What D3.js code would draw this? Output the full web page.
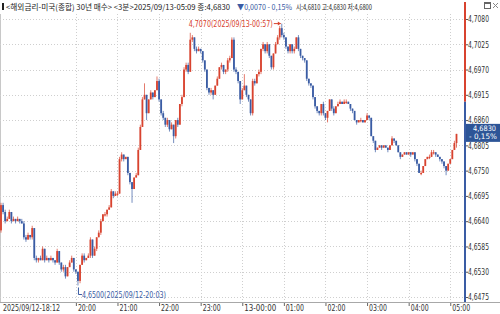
<!DOCTYPE html>
<html>
<head>
<meta charset="utf-8">
<script src="https://cdn.jsdelivr.net/npm/d3@7"></script>
<style>
body { margin: 0; background: #fff; }
svg { display: block; }
.num { font-family: "Liberation Sans Narrow", "Arial Narrow", "DejaVu Sans Condensed", sans-serif; }
.kr { font-family: "Noto Sans CJK KR", sans-serif; }
</style>
</head>
<body>
<div id="chart"></div>
<script>
// 3-minute bars, 2025/09/12 18:12 .. 2025/09/13 05:09
var startTime = "2025-09-12T18:12";
var barMinutes = 3;

var opens = [
 4.6620,4.6675,4.6660,4.6640,4.6645,4.6660,4.6640,4.6645,4.6640,4.6645,
 4.6640,4.6635,4.6605,4.6600,4.6610,4.6605,4.6625,4.6560,4.6555,4.6560,
 4.6555,4.6580,4.6555,4.6560,4.6555,4.6560,4.6555,4.6550,4.6575,4.6550,
 4.6535,4.6540,4.6520,4.6540,4.6550,4.6560,4.6535,4.6530,4.6510,4.6545,
 4.6565,4.6555,4.6560,4.6565,4.6600,4.6565,4.6580,4.6605,4.6615,4.6640,
 4.6655,4.6655,4.6665,4.6670,4.6705,4.6695,4.6700,4.6700,4.6775,4.6785,
 4.6775,4.6780,4.6745,4.6725,4.6710,4.6735,4.6740,4.6795,4.6845,4.6905,
 4.6915,4.6875,4.6905,4.6920,4.6910,4.6925,4.6945,4.6905,4.6875,4.6865,
 4.6850,4.6860,4.6840,4.6850,4.6825,4.6860,4.6850,4.6895,4.6910,4.6970,
 4.6980,4.6965,4.7035,4.7040,4.7015,4.7010,4.7015,4.7010,4.6990,4.6970,
 4.6930,4.6920,4.6925,4.6915,4.6935,4.6950,4.6975,4.6980,4.6965,4.6970,
 4.6990,4.6995,4.7035,4.6970,4.6965,4.6945,4.6905,4.6925,4.6935,4.6915,
 4.6905,4.6875,4.6945,4.6940,4.6960,4.6965,4.7015,4.7025,4.7010,4.7025,
 4.7000,4.6975,4.7005,4.7025,4.7040,4.7060,4.7045,4.7040,4.7020,4.7010,
 4.7025,4.7010,4.7015,4.7040,4.7015,4.7000,4.6995,4.6990,4.6950,4.6940,
 4.6935,4.6910,4.6890,4.6880,4.6875,4.6895,4.6875,4.6865,4.6880,4.6905,
 4.6885,4.6875,4.6890,4.6895,4.6900,4.6895,4.6900,4.6900,4.6895,4.6885,
 4.6880,4.6860,4.6855,4.6860,4.6860,4.6855,4.6860,4.6870,4.6865,4.6825,
 4.6815,4.6795,4.6800,4.6805,4.6800,4.6805,4.6800,4.6795,4.6805,4.6820,
 4.6815,4.6805,4.6790,4.6780,4.6785,4.6790,4.6785,4.6790,4.6785,4.6790,
 4.6775,4.6765,4.6745,4.6745,4.6760,4.6775,4.6780,4.6780,4.6790,4.6790,
 4.6785,4.6780,4.6775,4.6770,4.6760,4.6750,4.6765,4.6775,4.6795,4.6810
];
var highs = [
 4.6680,4.6680,4.6665,4.6650,4.6665,4.6660,4.6650,4.6645,4.6650,4.6645,
 4.6645,4.6640,4.6610,4.6615,4.6610,4.6630,4.6625,4.6565,4.6560,4.6565,
 4.6585,4.6580,4.6565,4.6560,4.6565,4.6560,4.6555,4.6580,4.6575,4.6550,
 4.6545,4.6545,4.6540,4.6555,4.6565,4.6560,4.6535,4.6530,4.6545,4.6570,
 4.6570,4.6560,4.6570,4.6605,4.6600,4.6585,4.6605,4.6620,4.6645,4.6655,
 4.6660,4.6665,4.6675,4.6710,4.6705,4.6705,4.6705,4.6780,4.6790,4.6785,
 4.6780,4.6780,4.6745,4.6725,4.6735,4.6745,4.6800,4.6850,4.6910,4.6940,
 4.6915,4.6905,4.6925,4.6920,4.6925,4.6955,4.6950,4.6905,4.6880,4.6865,
 4.6865,4.6860,4.6855,4.6850,4.6860,4.6865,4.6895,4.6915,4.6975,4.6985,
 4.6985,4.7050,4.7045,4.7040,4.7020,4.7020,4.7015,4.7010,4.6990,4.6970,
 4.6930,4.6930,4.6925,4.6935,4.6955,4.6975,4.6985,4.6980,4.6970,4.6995,
 4.7000,4.7040,4.7040,4.6975,4.6965,4.6945,4.6930,4.6960,4.6935,4.6915,
 4.6905,4.6950,4.6950,4.6960,4.6970,4.7015,4.7030,4.7025,4.7030,4.7025,
 4.7000,4.7005,4.7030,4.7045,4.7065,4.7070,4.7050,4.7040,4.7020,4.7025,
 4.7025,4.7020,4.7040,4.7045,4.7015,4.7000,4.6995,4.6990,4.6950,4.6940,
 4.6935,4.6910,4.6890,4.6880,4.6895,4.6900,4.6875,4.6880,4.6905,4.6905,
 4.6890,4.6890,4.6900,4.6905,4.6900,4.6905,4.6905,4.6900,4.6895,4.6885,
 4.6880,4.6860,4.6860,4.6865,4.6860,4.6860,4.6875,4.6870,4.6865,4.6825,
 4.6815,4.6800,4.6805,4.6805,4.6805,4.6805,4.6800,4.6805,4.6825,4.6820,
 4.6815,4.6805,4.6790,4.6785,4.6790,4.6790,4.6790,4.6790,4.6790,4.6790,
 4.6775,4.6765,4.6750,4.6760,4.6775,4.6780,4.6785,4.6795,4.6795,4.6790,
 4.6785,4.6780,4.6775,4.6770,4.6760,4.6765,4.6775,4.6795,4.6815,4.6830
];
var lows = [
 4.6615,4.6655,4.6635,4.6640,4.6645,4.6635,4.6640,4.6635,4.6640,4.6635,
 4.6635,4.6600,4.6595,4.6600,4.6600,4.6600,4.6555,4.6550,4.6550,4.6555,
 4.6555,4.6550,4.6555,4.6550,4.6555,4.6550,4.6545,4.6550,4.6545,4.6530,
 4.6530,4.6515,4.6520,4.6540,4.6550,4.6530,4.6525,4.6500,4.6505,4.6545,
 4.6550,4.6555,4.6560,4.6560,4.6560,4.6565,4.6575,4.6605,4.6610,4.6640,
 4.6650,4.6650,4.6665,4.6670,4.6690,4.6695,4.6695,4.6700,4.6770,4.6770,
 4.6775,4.6740,4.6720,4.6680,4.6710,4.6735,4.6740,4.6795,4.6845,4.6905,
 4.6860,4.6875,4.6905,4.6905,4.6910,4.6925,4.6900,4.6870,4.6860,4.6845,
 4.6845,4.6835,4.6840,4.6810,4.6820,4.6845,4.6850,4.6890,4.6910,4.6965,
 4.6960,4.6965,4.7030,4.7010,4.7005,4.7010,4.7005,4.6985,4.6965,4.6925,
 4.6915,4.6915,4.6905,4.6915,4.6935,4.6950,4.6970,4.6960,4.6960,4.6965,
 4.6985,4.6995,4.6965,4.6960,4.6940,4.6895,4.6905,4.6925,4.6910,4.6900,
 4.6870,4.6870,4.6935,4.6940,4.6955,4.6960,4.7010,4.7005,4.7005,4.6995,
 4.6970,4.6970,4.7005,4.7025,4.7035,4.7040,4.7035,4.7015,4.7005,4.7005,
 4.7005,4.7005,4.7015,4.7010,4.6995,4.6990,4.6985,4.6945,4.6935,4.6930,
 4.6905,4.6885,4.6875,4.6870,4.6870,4.6870,4.6860,4.6855,4.6880,4.6880,
 4.6870,4.6875,4.6890,4.6895,4.6895,4.6895,4.6895,4.6895,4.6880,4.6875,
 4.6860,4.6850,4.6855,4.6855,4.6855,4.6855,4.6860,4.6860,4.6825,4.6810,
 4.6790,4.6795,4.6800,4.6795,4.6800,4.6800,4.6790,4.6795,4.6805,4.6810,
 4.6805,4.6790,4.6775,4.6780,4.6785,4.6785,4.6785,4.6780,4.6785,4.6770,
 4.6760,4.6745,4.6740,4.6745,4.6760,4.6775,4.6775,4.6780,4.6785,4.6780,
 4.6780,4.6770,4.6765,4.6755,4.6740,4.6750,4.6765,4.6775,4.6795,4.6800
];
var closes = [
 4.6675,4.6660,4.6640,4.6645,4.6660,4.6640,4.6645,4.6640,4.6645,4.6640,
 4.6635,4.6605,4.6600,4.6610,4.6605,4.6625,4.6560,4.6555,4.6560,4.6555,
 4.6580,4.6555,4.6560,4.6555,4.6560,4.6555,4.6550,4.6575,4.6550,4.6535,
 4.6540,4.6520,4.6540,4.6550,4.6560,4.6535,4.6530,4.6510,4.6545,4.6565,
 4.6555,4.6560,4.6565,4.6600,4.6565,4.6580,4.6605,4.6615,4.6640,4.6655,
 4.6655,4.6665,4.6670,4.6705,4.6695,4.6700,4.6700,4.6775,4.6785,4.6775,
 4.6780,4.6745,4.6725,4.6710,4.6735,4.6740,4.6795,4.6845,4.6905,4.6915,
 4.6875,4.6905,4.6920,4.6910,4.6925,4.6945,4.6905,4.6875,4.6865,4.6850,
 4.6860,4.6840,4.6850,4.6825,4.6860,4.6850,4.6895,4.6910,4.6970,4.6980,
 4.6965,4.7035,4.7040,4.7015,4.7010,4.7015,4.7010,4.6990,4.6970,4.6930,
 4.6920,4.6925,4.6915,4.6935,4.6950,4.6975,4.6980,4.6965,4.6970,4.6990,
 4.6995,4.7035,4.6970,4.6965,4.6945,4.6905,4.6925,4.6935,4.6915,4.6905,
 4.6875,4.6945,4.6940,4.6960,4.6965,4.7015,4.7025,4.7010,4.7025,4.7000,
 4.6975,4.7005,4.7025,4.7040,4.7060,4.7045,4.7040,4.7020,4.7010,4.7025,
 4.7010,4.7015,4.7040,4.7015,4.7000,4.6995,4.6990,4.6950,4.6940,4.6935,
 4.6910,4.6890,4.6880,4.6875,4.6895,4.6875,4.6865,4.6880,4.6905,4.6885,
 4.6875,4.6890,4.6895,4.6900,4.6895,4.6900,4.6900,4.6895,4.6885,4.6880,
 4.6860,4.6855,4.6860,4.6860,4.6855,4.6860,4.6870,4.6865,4.6825,4.6815,
 4.6795,4.6800,4.6805,4.6800,4.6805,4.6800,4.6795,4.6805,4.6820,4.6815,
 4.6805,4.6790,4.6780,4.6785,4.6790,4.6785,4.6790,4.6785,4.6790,4.6775,
 4.6765,4.6745,4.6745,4.6760,4.6775,4.6780,4.6780,4.6790,4.6790,4.6785,
 4.6780,4.6775,4.6770,4.6760,4.6750,4.6765,4.6775,4.6795,4.6810,4.6830
];

var yTicks = [4.7080, 4.7025, 4.6970, 4.6915, 4.6860, 4.6805, 4.6750, 4.6695, 4.6640, 4.6585, 4.6530, 4.6475];
var xTickTimes = ["2025-09-12T18:12", "2025-09-12T20:00", "2025-09-12T21:00", "2025-09-12T22:00", "2025-09-12T23:00",
  "2025-09-13T00:00", "2025-09-13T01:00", "2025-09-13T02:00", "2025-09-13T03:00", "2025-09-13T04:00", "2025-09-13T05:00"];
var xTickLabels = ["2025/09/12-18:12", "20:00", "21:00", "22:00", "23:00", "13-00:00", "01:00", "02:00", "03:00", "04:00", "05:00"];

var prevClose = 4.6900;
var lastPct = "- 0,15%";
var highIndex = 135, highLabel = "4,7070(2025/09/13-00:57)";
var lowIndex = 37, lowLabel = "4,6500(2025/09/12-20:03)";

var titleMain = "<해외금리-미국(종합) 30년 매수> <3분>2025/09/13-05:09 종:4,6830";
var titleChange = "▼0,0070 - 0,15%";
var titleOhl = "시:4,6810 고:4,6830 저:4,6800";

var RED = "#d8432f", BLUE = "#3a5ca4", GRID = "#cfcfcf", TXT = "#333";

var W = 500, H = 314, axisX = 465, baseY = 302;
var comma = function(v){ return d3.format(".4f")(v).replace(".", ","); };

// squeeze a text to the width it has in the picture
function fit(sel, w) {
  sel.attr("textLength", w).attr("lengthAdjust", "spacingAndGlyphs");
}

var svg = d3.select("#chart").append("svg").attr("width", W).attr("height", H);

var parse = d3.timeParse("%Y-%m-%dT%H:%M");
var t0 = parse(startTime);
var times = closes.map(function(d, i){ return d3.timeMinute.offset(t0, i * barMinutes); });

var x = d3.scaleTime().domain([times[0], times[times.length - 1]]).range([1, 456.5]);
var y = d3.scaleLinear().domain([4.6475, 4.7080]).range([297, 19]);

// left frame
svg.append("line").attr("x1", 0.5).attr("x2", 0.5).attr("y1", 14).attr("y2", baseY)
  .attr("stroke", "#c8c8c8");

// grid
svg.append("g").selectAll("line").data(yTicks).enter().append("line")
  .attr("x1", 0).attr("x2", axisX)
  .attr("y1", function(d){ return Math.round(y(d)) + 0.5; })
  .attr("y2", function(d){ return Math.round(y(d)) + 0.5; })
  .attr("stroke", GRID).attr("stroke-dasharray", "1,2");

var tickDates = xTickTimes.map(parse);
svg.append("g").selectAll("line").data(tickDates.slice(1)).enter().append("line")
  .attr("x1", function(d){ return Math.round(x(d)) + 0.5; })
  .attr("x2", function(d){ return Math.round(x(d)) + 0.5; })
  .attr("y1", 14).attr("y2", baseY)
  .attr("stroke", GRID).attr("stroke-dasharray", "1,2");

// candles
var bars = closes.map(function(c, i){
  var o = opens[i], col;
  if (c > o) col = RED;
  else if (c < o) col = BLUE;
  else col = (i > 0 && c < closes[i - 1]) ? BLUE : RED;
  return {t: times[i], o: o, h: highs[i], l: lows[i], c: c, col: col};
});

var cg = svg.append("g");
cg.selectAll("line").data(bars).enter().append("line")
  .attr("x1", function(d){ return x(d.t); })
  .attr("x2", function(d){ return x(d.t); })
  .attr("y1", function(d){ return y(d.h); })
  .attr("y2", function(d){ return y(d.l); })
  .attr("stroke", function(d){ return d.col; })
  .attr("stroke-opacity", 0.7)
  .attr("stroke-width", 1);
cg.selectAll("rect").data(bars).enter().append("rect")
  .attr("x", function(d){ return x(d.t) - 0.9; })
  .attr("width", 1.8)
  .attr("y", function(d){ return y(Math.max(d.o, d.c)); })
  .attr("height", function(d){ return Math.max(1.2, Math.abs(y(d.o) - y(d.c))); })
  .attr("fill", function(d){ return d.col; });

// right axis
var yAxis = d3.axisRight(y).tickValues(yTicks).tickFormat(comma).tickSize(3).tickPadding(0);
var ya = svg.append("g").attr("class", "num").attr("transform", "translate(" + axisX + ",0)").call(yAxis);
ya.select(".domain").remove();
ya.selectAll("line").attr("stroke", "#555");
ya.selectAll("text").attr("fill", TXT).style("font-size", "8.5px").call(fit, 21);

svg.append("line").attr("x1", axisX).attr("x2", axisX).attr("y1", 2).attr("y2", y(prevClose))
  .attr("stroke", RED).attr("stroke-width", 2);
svg.append("line").attr("x1", axisX).attr("x2", axisX).attr("y1", y(prevClose)).attr("y2", baseY)
  .attr("stroke", BLUE).attr("stroke-width", 2);

// bottom axis
svg.append("line").attr("x1", 0).attr("x2", W).attr("y1", baseY + 0.5).attr("y2", baseY + 0.5)
  .attr("stroke", "#a8a8a8");
var xAxis = d3.axisBottom(x).tickValues(tickDates)
  .tickFormat(function(d, i){ return xTickLabels[i]; }).tickSize(4).tickPadding(0);
var xa = svg.append("g").attr("class", "num").attr("transform", "translate(0," + baseY + ")").call(xAxis);
xa.select(".domain").remove();
xa.selectAll(".tick line").attr("stroke", "#666").attr("y1", 1);
xa.selectAll(".tick").filter(function(d, i){ return i === 0; }).select("line").remove();
xa.selectAll("text").attr("text-anchor", "start").attr("x", 1.5).attr("y", 2.5)
  .attr("fill", TXT).style("font-size", "9px")
  .each(function(d, i){
    var s = xTickLabels[i];
    d3.select(this).call(fit, i === 0 ? 57 : (s.length > 5 ? 32 : 18));
  });

// last price tag
var last = bars[bars.length - 1];
var tagY = y(last.c) - 10;
svg.append("rect").attr("x", axisX + 1).attr("y", tagY).attr("width", W - axisX - 1).attr("height", 18)
  .attr("fill", "#2d5597");
svg.append("text").attr("class", "num").attr("x", 473).attr("y", tagY + 7.5)
  .attr("fill", "#fff").style("font-size", "7.5px").text(comma(last.c)).call(fit, 23);
svg.append("text").attr("class", "num").attr("x", 469).attr("y", tagY + 15)
  .attr("fill", "#fff").style("font-size", "7.5px").text(lastPct).call(fit, 28);

// high / low marks
var hx = x(times[highIndex]), hy = y(highs[highIndex]);
svg.append("text").attr("class", "num").attr("x", hx - 93).attr("y", hy + 3.5)
  .attr("fill", RED).style("font-size", "9px").text(highLabel).call(fit, 84);
svg.append("line").attr("x1", hx - 8).attr("x2", hx - 1).attr("y1", hy).attr("y2", hy)
  .attr("stroke", RED);
svg.append("path").attr("d", "M" + (hx - 1) + "," + hy + "l-3,-2v4z").attr("fill", RED);

var lx = x(times[lowIndex]), ly = y(lows[lowIndex]);
svg.append("path").attr("d", "M" + (lx + 0.5) + "," + (ly + 2) + "V" + (ly + 9) + "H" + (lx + 4))
  .attr("fill", "none").attr("stroke", BLUE);
svg.append("text").attr("class", "num").attr("x", lx + 4).attr("y", ly + 12)
  .attr("fill", BLUE).style("font-size", "9px").text(lowLabel).call(fit, 84);

// title bar
svg.append("rect").attr("x", 2).attr("y", 3).attr("width", 2).attr("height", 7).attr("fill", "#222");
svg.append("text").attr("class", "kr").attr("x", 6).attr("y", 10).style("font-size", "8px")
  .attr("fill", "#222").text(titleMain).call(fit, 224);
svg.append("text").attr("class", "kr").attr("x", 237).attr("y", 10).style("font-size", "8px")
  .attr("fill", BLUE).text(titleChange).call(fit, 55);
svg.append("text").attr("class", "kr").attr("x", 296).attr("y", 10).style("font-size", "8px")
  .attr("fill", "#222").text(titleOhl).call(fit, 76);

// window buttons
svg.append("rect").attr("x", 484.5).attr("y", 2.5).attr("width", 6).attr("height", 6)
  .attr("fill", "none").attr("stroke", "#666");
svg.append("line").attr("x1", 484.5).attr("x2", 490.5).attr("y1", 3.5).attr("y2", 3.5).attr("stroke", "#666");
svg.append("path").attr("d", "M493,3L498,8M498,3L493,8").attr("stroke", "#888").attr("fill", "none");
</script>
</body>
</html>
